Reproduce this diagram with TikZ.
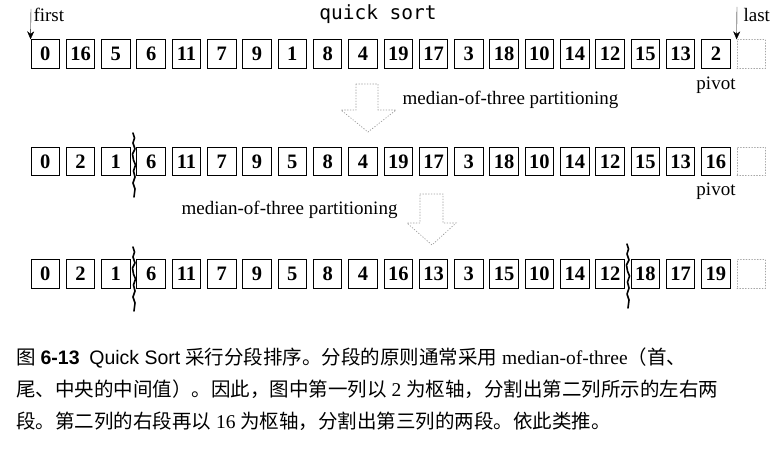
\documentclass[tikz,border=0pt]{standalone}
\usepackage{fontspec}
\setmainfont{Liberation Serif}
\setsansfont{Liberation Sans}
\setmonofont{DejaVu Sans Mono}
\newfontfamily\cjk{Noto Sans CJK SC}
\usetikzlibrary{arrows.meta}

\tikzset{
  cell/.style={draw,line width=0.9pt,minimum size=28.5pt,inner sep=0pt,
    font=\fontsize{20.5}{20.5}\selectfont\bfseries},
  emptycell/.style={draw=gray!70,dotted,line width=0.8pt,minimum size=28.5pt,inner sep=0pt},
  tag/.style={font=\fontsize{19}{19}\selectfont},
  capt/.style={anchor=base west,inner sep=0pt,font=\fontsize{19.5}{19.5}\selectfont},
  hollow/.style={draw=gray!75,dotted,line width=0.8pt,line join=miter},
  cutline/.style={line width=1.6pt,line join=round}
}

\begin{document}
\begin{tikzpicture}[x=1pt,y=-1pt,>={Stealth[length=8pt,width=7pt]},line cap=round]
\useasboundingbox (0,0) rectangle (781,448);
% first row
\foreach \v [count=\i from 0] in {0,16,5,6,11,7,9,1,8,4,19,17,3,18,10,14,12,15,13,2}
  \node[cell] (a\i) at ({45.25+35.3*\i},54) {\v};
\node[emptycell] (a20) at ({45.25+35.3*20},54) {};
% second row
\foreach \v [count=\i from 0] in {0,2,1,6,11,7,9,5,8,4,19,17,3,18,10,14,12,15,13,16}
  \node[cell] (b\i) at ({45.25+35.3*\i},161.5) {\v};
\node[emptycell] (b20) at ({45.25+35.3*20},161.5) {};
% third row
\foreach \v [count=\i from 0] in {0,2,1,6,11,7,9,5,8,4,16,13,3,15,10,14,12,18,17,19}
  \node[cell] (c\i) at ({45.25+35.3*\i},274) {\v};
\node[emptycell] (c20) at ({45.25+35.3*20},274) {};

\node[font=\fontsize{19.5}{19.5}\ttfamily] (title) at (378,14) {quick sort};
\node[tag,anchor=west] (firsttxt) at (30,15) {first};
\node[tag,anchor=west] (lasttxt) at (740,15) {last};
\coordinate (firsttop) at (31,9);
\coordinate (lasttop) at (737,7);
\draw[->] (firsttop) -- (a0.north west);
\draw[->] (lasttop) -- (a20.north west);

\node[tag] (piv1) at (716,85) {pivot};
\node[tag] (piv2) at (716,191) {pivot};
\node[tag,anchor=west] (med1) at (399,100) {median-of-three partitioning};
\node[tag,anchor=east] (med2) at (401,210) {median-of-three partitioning};

% hollow arrows
\draw[hollow] (356,84) -- (378,84) -- (378,110) -- (396,110) -- (368,132)
  -- (341,110) -- (356,110) -- cycle;
\draw[hollow] (420,194) -- (443,194) -- (443,223) -- (456,223) -- (432,245)
  -- (407,223) -- (420,223) -- cycle;

% cuts
\foreach \cx/\cy in {133/133,133/247,627/244}
  \draw[cutline] (\cx,\cy) -- ++(1.5,5) -- ++(-1.5,5) -- ++(2,6) -- ++(-2.5,5)
    -- ++(1,6) -- ++(2,5) -- ++(-2,6) -- ++(1.5,6) -- ++(-2,6) -- ++(2,6) -- ++(-1,8);

% caption
\node[capt] (cap1) at (16,364) {{\cjk 图} {\sffamily\bfseries 6-13}\enspace
  {\sffamily Quick Sort} {\cjk 采行分段排序。分段的原则通常采用} median-of-three{\cjk （首、}};
\node[capt] (cap2) at (16,396) {{\cjk 尾、中央的中间值）。因此，图中第一列以} 2
  {\cjk 为枢轴，分割出第二列所示的左右两}};
\node[capt] (cap3) at (16,428) {{\cjk 段。第二列的右段再以} 16
  {\cjk 为枢轴，分割出第三列的两段。依此类推。}};
\end{tikzpicture}
\end{document}
